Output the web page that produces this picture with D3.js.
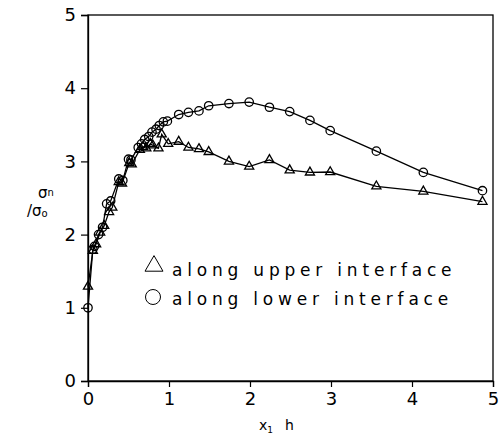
<!DOCTYPE html>
<html><head><meta charset="utf-8">
<script src="https://cdn.jsdelivr.net/npm/d3@7"></script>
<style>body{margin:0;background:#fff}svg{display:block}text{font-family:"DejaVu Sans",sans-serif;fill:#000}</style>
</head><body><svg id="c" width="502" height="442"></svg>
<script>
const lowerX = [0, 0.06, 0.08, 0.13, 0.18, 0.23, 0.28, 0.38, 0.43, 0.50, 0.53, 0.62, 0.66, 0.70, 0.75, 0.79, 0.84, 0.88, 0.93, 0.98, 1.12, 1.24, 1.37, 1.49, 1.74, 1.99, 2.24, 2.49, 2.74, 2.99, 3.56, 4.14, 4.87];
const lowerY = [1.0, 1.80, 1.84, 2.0, 2.1, 2.42, 2.46, 2.76, 2.74, 3.03, 3.02, 3.19, 3.24, 3.30, 3.34, 3.40, 3.44, 3.49, 3.54, 3.55, 3.64, 3.67, 3.69, 3.76, 3.79, 3.81, 3.74, 3.68, 3.56, 3.42, 3.14, 2.85, 2.60];
const upperX = [0, 0.06, 0.10, 0.15, 0.20, 0.26, 0.30, 0.38, 0.42, 0.51, 0.54, 0.64, 0.68, 0.72, 0.77, 0.80, 0.87, 0.91, 0.99, 1.12, 1.24, 1.37, 1.49, 1.74, 1.99, 2.24, 2.49, 2.74, 2.99, 3.56, 4.14, 4.87];
const upperY = [1.29, 1.78, 1.87, 2.03, 2.12, 2.31, 2.37, 2.72, 2.70, 2.98, 2.96, 3.16, 3.20, 3.18, 3.24, 3.22, 3.18, 3.37, 3.24, 3.27, 3.19, 3.17, 3.13, 3.00, 2.93, 3.02, 2.88, 2.85, 2.855, 2.66, 2.59, 2.45];
const xTicks = [0, 1, 2, 3, 4, 5];
const yTicks = [0, 1, 2, 3, 4, 5];
const legendLabels = ["along upper interface", "along lower interface"];

const svg = d3.select("#c");
const x = d3.scaleLinear().domain([0, 5]).range([88, 493]);
const y = d3.scaleLinear().domain([0, 5]).range([381, 15]);

// frame
svg.append("rect").attr("x", 88).attr("y", 15).attr("width", 405).attr("height", 366)
  .attr("fill", "none").attr("stroke", "#000").attr("stroke-width", 1.3);

const xa = svg.append("g").attr("transform", "translate(0,381)")
  .call(d3.axisBottom(x).tickValues(xTicks).tickSize(6).tickPadding(5).tickFormat(d3.format("d")));
const ya = svg.append("g").attr("transform", "translate(88,0)")
  .call(d3.axisLeft(y).tickValues(yTicks).tickSize(7).tickPadding(5).tickFormat(d3.format("d")));
[xa, ya].forEach(a => {
  a.select(".domain").attr("stroke", "#000").attr("stroke-width", 1.3);
  a.selectAll(".tick line").attr("stroke", "#000").attr("stroke-width", 1.2);
  a.selectAll(".tick text").style("font-family", "'DejaVu Sans',sans-serif").style("font-size", "18px").attr("fill", "#111");
});

const line = d3.line().x(d => x(d[0])).y(d => y(d[1]));
const lower = lowerX.map((v, i) => [v, lowerY[i]]);
const upper = upperX.map((v, i) => [v, upperY[i]]);

svg.append("path").datum(lower).attr("d", line).attr("fill", "none").attr("stroke", "#000").attr("stroke-width", 1.3);
svg.append("path").datum(upper).attr("d", line).attr("fill", "none").attr("stroke", "#000").attr("stroke-width", 1.3);

svg.selectAll("circle.m").data(lower).join("circle").attr("class", "m")
  .attr("cx", d => x(d[0])).attr("cy", d => y(d[1])).attr("r", 4.2)
  .attr("fill", "none").attr("stroke", "#000").attr("stroke-width", 1.3);

const tri = d3.symbol().type(d3.symbolTriangle).size(36);
svg.selectAll("path.t").data(upper).join("path").attr("class", "t")
  .attr("transform", d => `translate(${x(d[0])},${y(d[1])})`).attr("d", tri)
  .attr("fill", "none").attr("stroke", "#000").attr("stroke-width", 1.3);

// legend
const lg = svg.append("g");
lg.append("path").attr("transform", "translate(154,266)").attr("d", d3.symbol().type(d3.symbolTriangle).size(140))
  .attr("fill", "none").attr("stroke", "#000").attr("stroke-width", 1);
lg.append("circle").attr("cx", 153).attr("cy", 297).attr("r", 7.5)
  .attr("fill", "none").attr("stroke", "#000").attr("stroke-width", 1);
legendLabels.forEach((t, i) => {
  lg.append("text").attr("x", 172).attr("y", 276 + i * 29).text(t)
    .style("font-size", "17px").style("letter-spacing", "4.8px");
});

// y label
const yl = svg.append("g").style("font-size", "15px").attr("fill", "#222");
const t1 = yl.append("text").attr("x", 38).attr("y", 198);
t1.append("tspan").text("σ");
t1.append("tspan").attr("dy", -2).style("font-size", "10px").text("n");
const t2 = yl.append("text").attr("x", 27).attr("y", 216);
t2.append("tspan").text("/σ");
t2.append("tspan").attr("dy", 1).style("font-size", "10px").text("o");

// x label
const xl = svg.append("text").attr("x", 259).attr("y", 430).style("font-size", "14px").attr("fill", "#555");
xl.append("tspan").text("x");
xl.append("tspan").attr("dy", 3).style("font-size", "9px").text("1");
xl.append("tspan").attr("dy", -3).attr("dx", 12).text("h");
</script></body></html>
